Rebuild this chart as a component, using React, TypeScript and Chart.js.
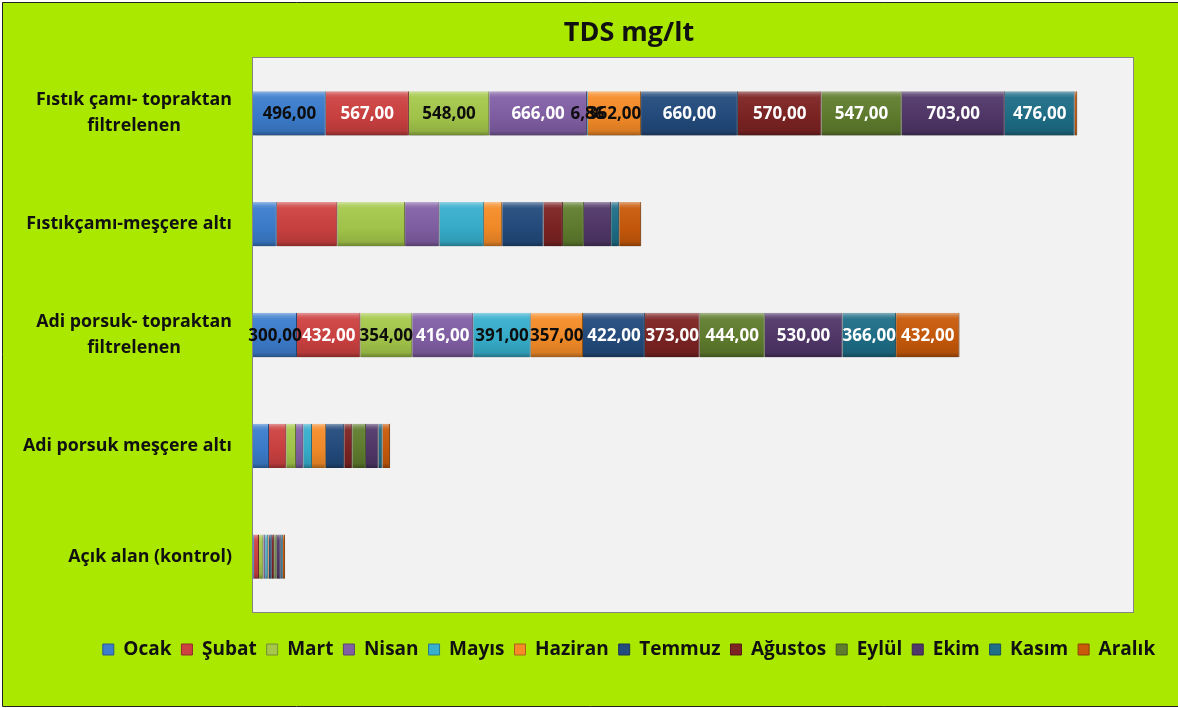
import React, { useEffect, useRef } from "react";
import { Chart, registerables } from "chart.js";

Chart.register(...registerables);

const categories: (string | string[])[] = [
  ["Fıstık çamı- topraktan", "filtrelenen"],
  "Fıstıkçamı-meşçere altı",
  ["Adi porsuk- topraktan", "filtrelenen"],
  "Adi porsuk meşçere altı",
  "Açık alan (kontrol)",
];

const months = ["Ocak", "Şubat", "Mart", "Nisan", "Mayıs", "Haziran", "Temmuz", "Ağustos", "Eylül", "Ekim", "Kasım", "Aralık"];

const ocak = [496, 162, 300, 109, 7];
const subat = [567, 413, 432, 118, 34];
const mart = [548, 462, 354, 66, 30];
const nisan = [666, 234, 416, 50, 12];
const mayis = [6.86, 303, 391, 59, 18];
const haziran = [362, 125, 357, 95, 7];
const temmuz = [660, 282, 422, 125, 20];
const agustos = [570, 132, 373, 55, 17];
const eylul = [547, 143, 444, 93, 17];
const ekim = [703, 186, 530, 86, 27];
const kasim = [476, 55, 366, 27, 14];
const aralik = [18, 150, 432, 52, 16];

const seriesValues = [ocak, subat, mart, nisan, mayis, haziran, temmuz, agustos, eylul, ekim, kasim, aralik];

const xMax = 6000;
const labeledCategories = [0, 2];
const hiddenLabels = [[0, 11]];

const baseColors = [
  [60, 125, 205],
  [205, 65, 65],
  [165, 200, 75],
  [130, 95, 165],
  [55, 175, 205],
  [245, 140, 40],
  [35, 75, 125],
  [125, 35, 35],
  [95, 125, 45],
  [80, 55, 105],
  [30, 110, 135],
  [200, 90, 10],
];
const darkLabelSeries = [0, 2, 4, 5];

const FONT = "'Open Sans', Lato, sans-serif";

function mix(c: number[], t: number[], a: number) {
  const r = c.map((v, i) => Math.round(v + (t[i] - v) * a));
  return `rgb(${r[0]},${r[1]},${r[2]})`;
}

export default function App() {
  const ref = useRef<HTMLCanvasElement | null>(null);
  useEffect(() => {
    if (!ref.current) return;
    const padL = 88;
    const padR = 8;
    const plotLeft = 253;
    const plotRight = 1133;

    const bgPlugin = {
      id: "bgPlugin",
      beforeDraw(chart: any) {
        const { ctx, chartArea } = chart;
        ctx.save();
        ctx.fillStyle = "#ffffff";
        ctx.fillRect(0, 0, chart.width, chart.height);
        ctx.fillStyle = "#abe800";
        ctx.fillRect(2, 2, chart.width, 704);
        ctx.strokeStyle = "#222";
        ctx.lineWidth = 1;
        ctx.beginPath();
        ctx.moveTo(2.5, 706.5);
        ctx.lineTo(2.5, 2.5);
        ctx.lineTo(chart.width, 2.5);
        ctx.moveTo(2.5, 706.5);
        ctx.lineTo(chart.width, 706.5);
        ctx.stroke();
        ctx.fillStyle = "#f2f2f2";
        ctx.fillRect(chartArea.left, chartArea.top, chartArea.right - chartArea.left, chartArea.bottom - chartArea.top);
        ctx.strokeStyle = "#858585";
        ctx.strokeRect(chartArea.left - 0.5, chartArea.top - 0.5, chartArea.right - chartArea.left + 1, chartArea.bottom - chartArea.top + 1);
        ctx.restore();
      },
      beforeDatasetsDraw(chart: any) {
        const { ctx } = chart;
        ctx.save();
        ctx.shadowColor = "rgba(0,0,0,0.35)";
        ctx.shadowBlur = 4;
        ctx.shadowOffsetY = 2;
      },
      afterDatasetsDraw(chart: any) {
        chart.ctx.restore();
      },
      afterDraw(chart: any) {
        const { ctx } = chart;
        const yScale = chart.scales.y;
        ctx.save();
        // category labels
        ctx.font = `bold 17.8px ${FONT}`;
        ctx.fillStyle = "#111";
        ctx.textBaseline = "middle";
        categories.forEach((c, i) => {
          const yc = yScale.getPixelForValue(i);
          const lines = Array.isArray(c) ? c : [c];
          const widths = lines.map((l) => ctx.measureText(l).width);
          const maxW = Math.max(...widths);
          const right = plotLeft - 21;
          const lh = 26;
          lines.forEach((l, k) => {
            const y = yc + (k - (lines.length - 1) / 2) * lh;
            ctx.textAlign = "center";
            ctx.fillText(l, right - maxW / 2, y);
          });
        });
        // value labels
        ctx.font = `bold 17px ${FONT}`;
        ctx.textAlign = "center";
        chart.data.datasets.forEach((ds: any, di: number) => {
          const meta = chart.getDatasetMeta(di);
          labeledCategories.forEach((ci) => {
            if (hiddenLabels.some((h) => h[0] === ci && h[1] === di)) return;
            const el = meta.data[ci];
            if (!el) return;
            const v = ds.data[ci];
            const txt = v.toFixed(2).replace(".", ",");
            const cx = (el.x + el.base) / 2;
            ctx.fillStyle = darkLabelSeries.includes(di) ? "#0d0d0d" : "#ffffff";
            ctx.fillText(txt, cx, el.y + 1);
          });
        });
        ctx.restore();
      },
    };

    const chart = new Chart(ref.current, {
      type: "bar",
      data: {
        labels: categories.map((c) => (Array.isArray(c) ? c.join(" ") : c)),
        datasets: months.map((m, i) => ({
          label: m,
          data: seriesValues[i],
          backgroundColor: (ctx: any) => {
            const base = baseColors[i];
            if (ctx.type !== "data") return mix(base, base, 0);
            const ys = ctx.chart.scales.y;
            const yc = ys.getPixelForValue(ctx.dataIndex);
            const half = 22;
            const g = ctx.chart.ctx.createLinearGradient(0, yc - half, 0, yc + half);
            g.addColorStop(0, mix(base, [255, 255, 255], 0.45));
            g.addColorStop(0.07, mix(base, [255, 255, 255], 0.18));
            g.addColorStop(0.14, mix(base, [255, 255, 255], 0.05));
            g.addColorStop(0.6, mix(base, [0, 0, 0], 0.03));
            g.addColorStop(0.9, mix(base, [0, 0, 0], 0.12));
            g.addColorStop(1, mix(base, [0, 0, 0], 0.35));
            return g;
          },
          borderColor: mix(baseColors[i], [0, 0, 0], 0.35),
          borderWidth: { left: 0, right: 1, top: 0, bottom: 0 },
          borderSkipped: false,
          barPercentage: 0.4,
          categoryPercentage: 1,
        })),
      },
      options: {
        indexAxis: "y",
        animation: false,
        responsive: false,
        maintainAspectRatio: false,
        devicePixelRatio: 1,
        layout: { padding: { left: padL, right: padR, top: 6, bottom: 39 } },
        scales: {
          x: {
            type: "linear",
            stacked: true,
            min: 0,
            max: xMax,
            display: true,
            grid: { display: false },
            ticks: { display: false },
            border: { display: false },
            afterFit: (s: any) => {
              s.height = 18;
            },
          },
          y: {
            type: "category",
            stacked: true,
            display: true,
            grid: { display: false },
            ticks: { display: false },
            border: { display: false },
            afterFit: (s: any) => {
              s.width = plotLeft - padL;
            },
          },
          yr: {
            type: "linear",
            position: "right",
            display: true,
            grid: { display: false },
            ticks: { display: false },
            border: { display: false },
            afterFit: (s: any) => {
              s.width = 1178 - padR - plotRight;
            },
          },
        },
        plugins: {
          title: {
            display: true,
            text: "TDS mg/lt",
            color: "#111",
            font: { family: FONT, size: 27, weight: "bold" },
            padding: { top: 11, bottom: 8.6 },
          },
          legend: {
            display: true,
            position: "bottom",
            labels: {
              boxWidth: 11,
              boxHeight: 11,
              padding: 10,
              color: "#111",
              font: { family: FONT, size: 19, weight: "bold" },
              generateLabels: (chart: any) =>
                months.map((m, i) => ({
                  text: m,
                  fillStyle: mix(baseColors[i], baseColors[i], 0),
                  strokeStyle: mix(baseColors[i], [0, 0, 0], 0.3),
                  lineWidth: 1,
                  datasetIndex: i,
                  hidden: false,
                  fontColor: "#111",
                })),
            },
          },
          tooltip: { enabled: false },
        },
      },
      plugins: [bgPlugin],
    } as any);
    return () => chart.destroy();
  }, []);

  return (
    <div style={{ position: "absolute", left: 0, top: 0, width: 1178, height: 708 }}>
      <canvas ref={ref} width={1178} height={708} style={{ width: 1178, height: 708, display: "block" }} />
    </div>
  );
}
